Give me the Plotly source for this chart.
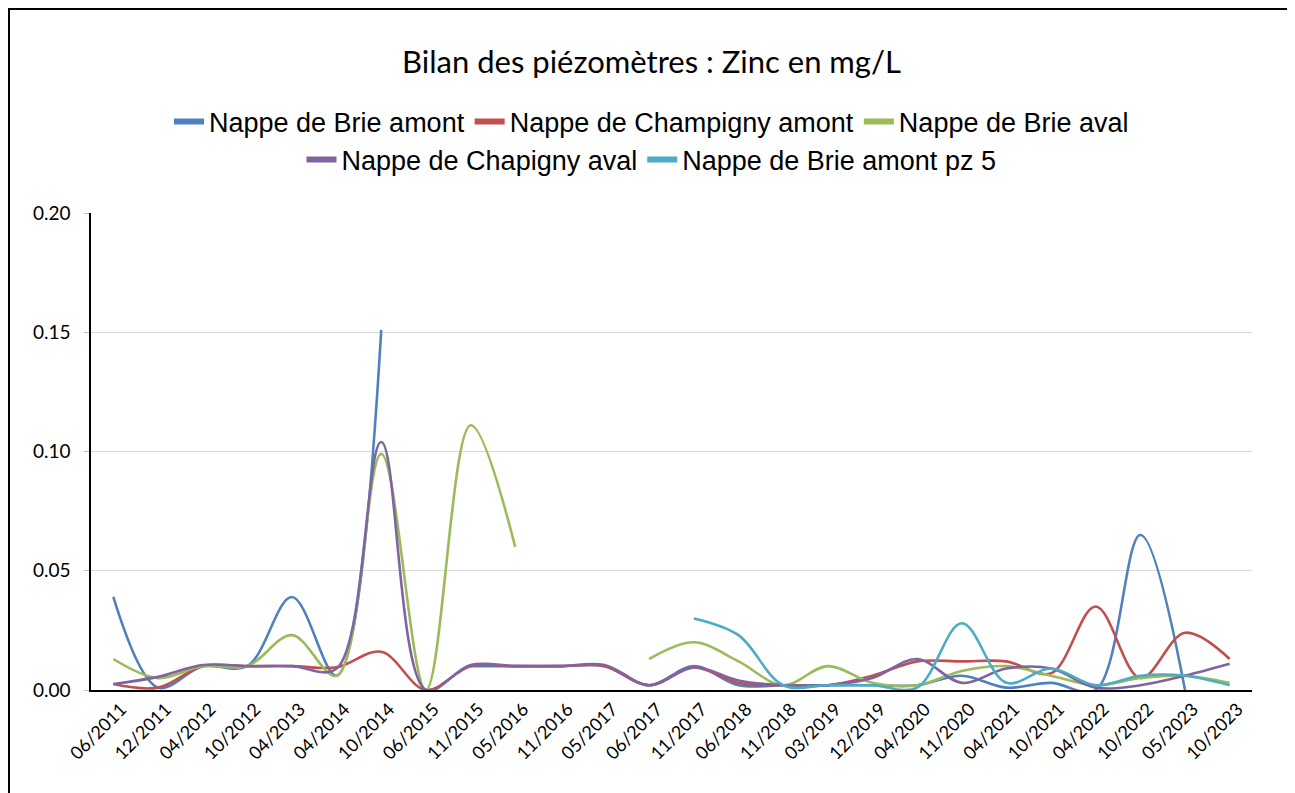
import plotly.graph_objects as go

categories = ["06/2011", "12/2011", "04/2012", "10/2012", "04/2013", "04/2014", "10/2014",
              "06/2015", "11/2015", "05/2016", "11/2016", "05/2017", "06/2017", "11/2017",
              "06/2018", "11/2018", "03/2019", "12/2019", "04/2020", "11/2020", "04/2021",
              "10/2021", "04/2022", "10/2022", "05/2023", "10/2023"]

brie_amont = [0.039, 0.001, 0.010, 0.010, 0.039, 0.006, 0.151,
              None, 0.010, 0.010, 0.010, 0.010, 0.002, 0.010,
              0.002, 0.002, 0.002, 0.002, 0.002, 0.006, 0.001,
              0.003, 0.000, 0.065, 0.000, None]

champigny_amont = [0.0025, 0.001, 0.010, 0.010, 0.010, 0.0095, 0.016,
                   0.000, 0.010, 0.010, 0.010, 0.010, 0.002, 0.0095,
                   0.003, 0.002, 0.002, 0.006, 0.012, 0.012, 0.012,
                   0.007, 0.035, 0.005, 0.024, 0.013]

brie_aval = [0.013, 0.005, 0.010, 0.010, 0.023, 0.006, 0.099,
             0.000, 0.111, 0.060, None, None, 0.013, 0.020,
             0.012, 0.002, 0.010, 0.003, 0.002, 0.008, 0.010,
             0.006, 0.002, 0.005, 0.006, 0.003]

chapigny_aval = [0.0025, 0.0055, 0.0105, 0.010, 0.010, 0.009, 0.104,
                 0.000, 0.0105, 0.010, 0.010, 0.0105, 0.002, 0.0095,
                 0.004, 0.002, 0.002, 0.005, 0.013, 0.003, 0.009,
                 0.009, 0.001, 0.002, 0.006, 0.011]

brie_amont_pz5 = [None, None, None, None, None, None, None,
                  None, None, None, None, None, None, 0.030,
                  0.023, 0.002, 0.002, 0.002, 0.001, 0.028, 0.003,
                  0.009, 0.002, 0.006, 0.006, 0.002]

series = [
    ("Nappe de Brie amont", brie_amont, "#4F81BD", "legend"),
    ("Nappe de Champigny amont", champigny_amont, "#C0504D", "legend"),
    ("Nappe de Brie aval", brie_aval, "#9BBB59", "legend"),
    ("Nappe de Chapigny aval", chapigny_aval, "#8064A2", "legend2"),
    ("Nappe de Brie amont pz 5", brie_amont_pz5, "#4BACC6", "legend2"),
]

# The page body has an 8px margin, so the figure is laid out 8px up/left of screen coords.
W, H = 1287, 785
L, R, T, B = 83, 43, 205, 103
plot_h = H - T - B

fig = go.Figure()
for name, vals, color, lg in series:
    fig.add_trace(go.Scatter(
        x=categories, y=vals, mode="lines", name=name,
        line=dict(color=color, width=2.6, shape="spline", smoothing=1.0),
        connectgaps=False, showlegend=False, hoverinfo="x+y+name"))
for name, vals, color, lg in series:
    fig.add_trace(go.Scatter(
        x=[None], y=[None], mode="lines", name=name,
        line=dict(color=color, width=6), legend=lg, showlegend=True))

legend_common = dict(orientation="h", xref="container", yref="container",
                     x=0.5, xanchor="center", yanchor="middle",
                     font=dict(family="Liberation Sans, Arial, sans-serif", size=27, color="#000000"),
                     bgcolor="rgba(0,0,0,0)", itemwidth=30, tracegroupgap=0)

fig.update_layout(
    width=W, height=H,
    paper_bgcolor="white", plot_bgcolor="white",
    margin=dict(l=L, r=R, t=T, b=B, autoexpand=False),
    title=dict(text="Bilan des piézomètres : Zinc en mg/L",
               x=0.5, xanchor="center", xref="container",
               y=1 - 54 / H, yanchor="middle", yref="container",
               font=dict(family="Lato, Liberation Sans, sans-serif", size=31, color="#000000")),
    legend=dict(legend_common, y=1 - 114 / H),
    legend2=dict(legend_common, y=1 - 152 / H),
    xaxis=dict(type="category", categoryorder="array", categoryarray=categories,
               range=[-0.5, len(categories) - 0.5], automargin=False,
               tickangle=-45, showgrid=False, showline=True, linecolor="#000000",
               linewidth=1.5, ticks="", zeroline=False, ticklabelshift=8,
               tickfont=dict(family="Lato, Liberation Sans, sans-serif", size=18, color="#000000")),
    yaxis=dict(range=[0, 0.2], tickvals=[0, 0.05, 0.10, 0.15, 0.20], tickformat=".2f",
               automargin=False,
               showgrid=True, gridcolor="#D9D9D9", gridwidth=1,
               showline=True, linecolor="#000000", linewidth=1.5,
               ticks="outside", ticklen=5, tickcolor="#BFBFBF", zeroline=False,
               ticklabelstandoff=10,
               tickfont=dict(family="Lato, Liberation Sans, sans-serif", size=19, color="#000000")),
    shapes=[dict(type="rect", xref="paper", yref="paper",
                 x0=(1 - L) / (W - L - R), x1=(1282 - L) / (W - L - R),
                 y0=(plot_h - (H + 10 - T)) / plot_h, y1=(plot_h + T - 1) / plot_h,
                 line=dict(color="#000000", width=2), fillcolor="rgba(0,0,0,0)", layer="below")],
)

fig.write_html("out.html")
